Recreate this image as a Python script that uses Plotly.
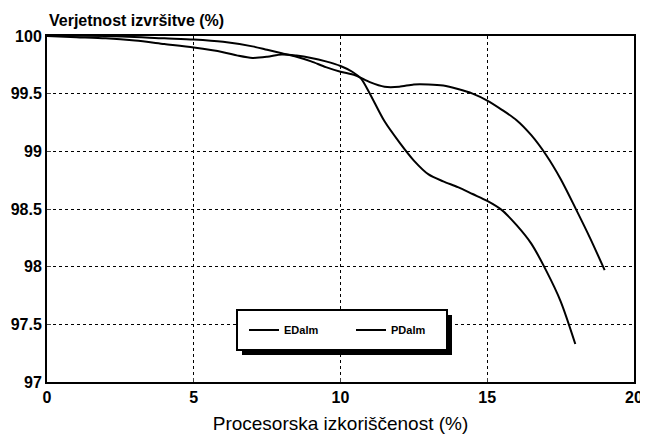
import plotly.graph_objects as go

# Curve data
edalm_x = [0, 1, 2, 3, 4, 5, 6, 6.5, 7, 7.5, 8, 8.5, 9, 9.5, 10, 10.4, 10.7, 11, 11.5, 12, 12.5, 13, 13.5, 14, 14.5, 15, 15.5, 16, 16.5, 17, 17.5, 18]
edalm_y = [100, 99.99, 99.98, 99.96, 99.93, 99.9, 99.86, 99.83, 99.81, 99.82, 99.84, 99.83, 99.81, 99.78, 99.74, 99.69, 99.63, 99.5, 99.26, 99.08, 98.92, 98.8, 98.74, 98.69, 98.63, 98.57, 98.49, 98.36, 98.2, 97.97, 97.7, 97.33]

pdalm_x = [0, 2, 4, 5, 6, 7, 7.5, 8, 8.5, 9, 9.5, 10, 10.5, 11, 11.5, 12, 12.5, 13, 13.5, 14, 14.5, 15, 15.5, 16, 16.5, 17, 17.5, 18, 18.5, 19]
pdalm_y = [100, 100, 99.98, 99.97, 99.95, 99.91, 99.88, 99.85, 99.82, 99.78, 99.73, 99.69, 99.66, 99.6, 99.56, 99.56, 99.58, 99.58, 99.57, 99.54, 99.5, 99.44, 99.36, 99.27, 99.14, 98.97, 98.76, 98.51, 98.25, 97.97]

x_ticks = [0, 5, 10, 15, 20]
y_ticks = [97, 97.5, 98, 98.5, 99, 99.5, 100]
y_ticktext = ["97", "97.5", "98", "98.5", "99", "99.5", "100"]

series_names = ["EDalm", "PDalm"]

fig = go.Figure()
fig.add_trace(go.Scatter(x=edalm_x, y=edalm_y, mode="lines", name=series_names[0],
                         line=dict(color="black", width=2, shape="spline", smoothing=0.8)))
fig.add_trace(go.Scatter(x=pdalm_x, y=pdalm_y, mode="lines", name=series_names[1],
                         line=dict(color="black", width=2, shape="spline", smoothing=0.8)))

# page body has an 8px margin; figure is placed at (8, 8)
OFF = 8
W, H = 640, 427
L, R, T, B = 39, 14, 28, 53
pw, ph = W - L - R, H - T - B

def px_to_paper(xp, yp):
    # xp, yp are window pixel coordinates
    return (xp - OFF - L) / pw, (H - B - (yp - OFF)) / ph

# legend shadow and box
sx0, sy1 = px_to_paper(242, 315)
sx1, sy0 = px_to_paper(452, 355)
fig.add_shape(type="rect", xref="paper", yref="paper", x0=sx0, x1=sx1, y0=sy0, y1=sy1,
              fillcolor="black", line=dict(width=0), layer="above")
bx0, by1 = px_to_paper(237, 310)
bx1, by0 = px_to_paper(447, 350)
fig.add_shape(type="rect", xref="paper", yref="paper", x0=bx0, x1=bx1, y0=by0, y1=by1,
              fillcolor="white", line=dict(color="black", width=2), layer="above")

lx, ly = px_to_paper(244, 330)

fig.update_layout(
    width=W, height=H,
    margin=dict(l=L, r=R, t=T, b=B, autoexpand=False),
    paper_bgcolor="white", plot_bgcolor="white",
    font=dict(family="Liberation Sans, Arial, sans-serif", color="black"),
    showlegend=True,
    legend=dict(orientation="h", x=lx, y=ly, xanchor="left", yanchor="middle",
                bgcolor="rgba(0,0,0,0)", borderwidth=0,
                font=dict(size=11, weight="bold"), entrywidth=62),
    xaxis=dict(range=[0, 20], tickvals=x_ticks, ticks="inside", ticklen=4,
               showline=True, linecolor="black", linewidth=2, mirror=True,
               showgrid=True, gridcolor="black", griddash="dot", gridwidth=1,
               zeroline=False, tickfont=dict(size=16, weight="bold"), automargin=False,
               title=dict(text="Procesorska izkoriščenost (%)", font=dict(size=19), standoff=11)),
    yaxis=dict(range=[97, 100], tickvals=y_ticks, ticktext=y_ticktext, ticks="inside", ticklen=4,
               showline=True, linecolor="black", linewidth=2, mirror=True,
               showgrid=True, gridcolor="black", griddash="dot", gridwidth=1,
               zeroline=False, tickfont=dict(size=16, weight="bold"), automargin=False),
    annotations=[dict(text="Verjetnost izvršitve (%)", xref="paper", yref="paper",
                      x=0, y=1, xanchor="left", yanchor="bottom", yshift=5, showarrow=False,
                      font=dict(size=16, weight="bold"))],
)

fig.write_html("out.html")
